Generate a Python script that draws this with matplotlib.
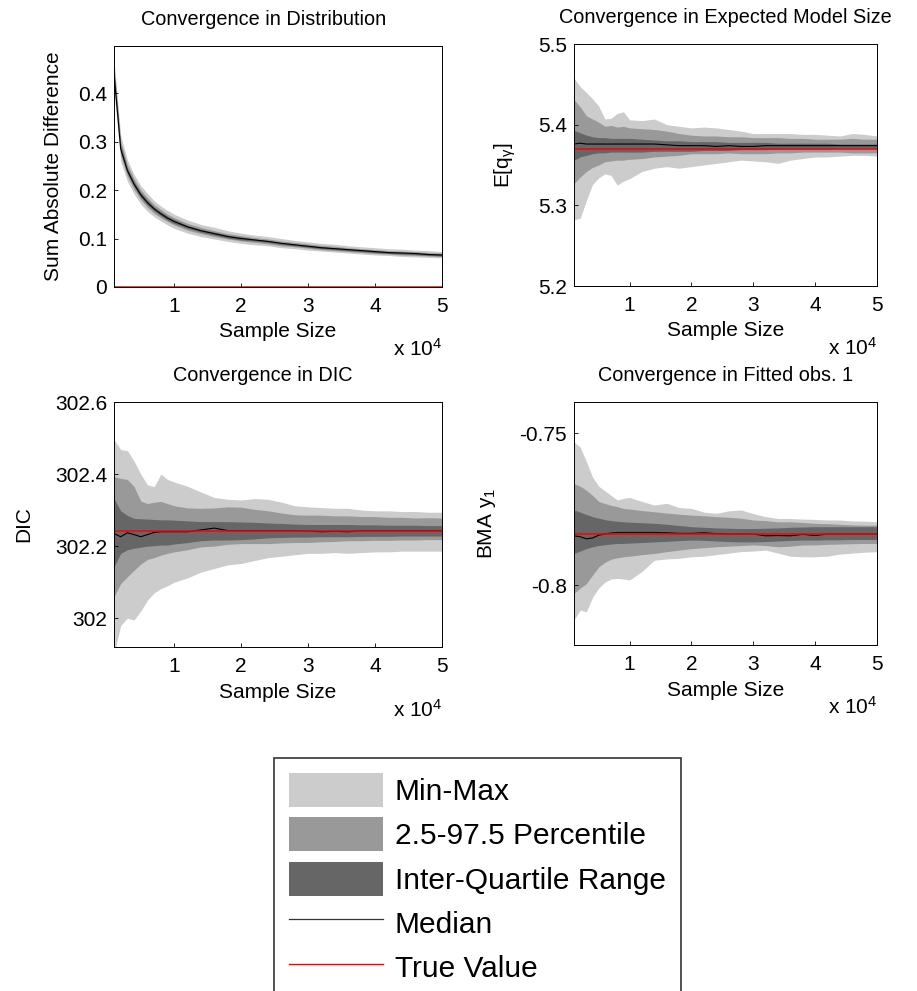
# Convergence diagnostics: 4 panels + common legend
import matplotlib
matplotlib.use("Agg")
import matplotlib.pyplot as plt
from matplotlib.patches import Patch
from matplotlib.lines import Line2D

plt.rcParams["font.family"] = ["Liberation Sans", "DejaVu Sans"]
plt.rcParams["mathtext.fontset"] = "custom"
plt.rcParams["mathtext.rm"] = "Liberation Sans"
plt.rcParams["mathtext.it"] = "Liberation Sans"
plt.rcParams["axes.unicode_minus"] = False

LIGHT = "#cccccc"
MID = "#999999"
DARK = "#666666"

# sample sizes
sample_size = [1000, 2000, 3000, 4000, 5000, 6000, 7000, 8000, 9000, 10000,
               12000, 14000, 16000, 18000, 20000, 22000, 24000, 26000, 28000, 30000,
               32000, 34000, 36000, 38000, 40000, 42000, 44000, 46000, 48000, 50000]

# --- convergence in distribution ---
dist_min = [0.405, 0.258, 0.218, 0.192, 0.171, 0.156, 0.145, 0.136, 0.128, 0.121,
            0.111, 0.104, 0.099, 0.094, 0.090, 0.087, 0.085, 0.081, 0.079, 0.076,
            0.074, 0.072, 0.070, 0.068, 0.066, 0.065, 0.063, 0.062, 0.061, 0.060]
dist_max = [0.470, 0.312, 0.262, 0.232, 0.209, 0.193, 0.178, 0.167, 0.158, 0.150,
            0.138, 0.129, 0.123, 0.116, 0.111, 0.107, 0.104, 0.100, 0.096, 0.093,
            0.090, 0.088, 0.085, 0.083, 0.081, 0.079, 0.078, 0.076, 0.075, 0.073]
dist_p025 = [0.420, 0.270, 0.228, 0.201, 0.180, 0.164, 0.152, 0.143, 0.135, 0.128,
             0.117, 0.110, 0.104, 0.099, 0.095, 0.092, 0.089, 0.085, 0.083, 0.080,
             0.077, 0.075, 0.073, 0.071, 0.069, 0.068, 0.066, 0.065, 0.064, 0.063]
dist_p975 = [0.458, 0.300, 0.252, 0.223, 0.200, 0.184, 0.170, 0.160, 0.150, 0.143,
             0.131, 0.123, 0.116, 0.110, 0.106, 0.102, 0.099, 0.095, 0.092, 0.089,
             0.086, 0.084, 0.081, 0.079, 0.077, 0.075, 0.074, 0.073, 0.071, 0.070]
dist_q25 = [0.432, 0.278, 0.235, 0.207, 0.185, 0.169, 0.157, 0.147, 0.138, 0.131,
            0.121, 0.113, 0.107, 0.101, 0.097, 0.095, 0.092, 0.088, 0.085, 0.082,
            0.079, 0.077, 0.075, 0.073, 0.071, 0.069, 0.068, 0.067, 0.065, 0.064]
dist_q75 = [0.448, 0.292, 0.245, 0.217, 0.195, 0.179, 0.165, 0.155, 0.146, 0.139,
            0.127, 0.119, 0.113, 0.107, 0.103, 0.099, 0.096, 0.092, 0.089, 0.086,
            0.083, 0.081, 0.079, 0.077, 0.075, 0.073, 0.072, 0.071, 0.069, 0.068]
dist_med = [0.440, 0.285, 0.240, 0.212, 0.190, 0.174, 0.161, 0.151, 0.142, 0.135,
            0.124, 0.116, 0.110, 0.104, 0.100, 0.097, 0.094, 0.090, 0.087, 0.084,
            0.081, 0.079, 0.077, 0.075, 0.073, 0.071, 0.070, 0.069, 0.067, 0.066]
dist_true = 0.0

# --- convergence in expected model size ---
eq_min = [5.282, 5.284, 5.306, 5.326, 5.334, 5.339, 5.337, 5.325, 5.330, 5.333,
          5.342, 5.346, 5.348, 5.346, 5.348, 5.350, 5.352, 5.354, 5.356, 5.355,
          5.354, 5.352, 5.356, 5.358, 5.360, 5.360, 5.361, 5.362, 5.362, 5.361]
eq_max = [5.458, 5.447, 5.440, 5.432, 5.423, 5.407, 5.408, 5.414, 5.416, 5.406,
          5.405, 5.407, 5.400, 5.398, 5.396, 5.397, 5.396, 5.394, 5.392, 5.389,
          5.389, 5.389, 5.389, 5.388, 5.388, 5.387, 5.386, 5.389, 5.388, 5.386]
eq_p025 = [5.327, 5.335, 5.342, 5.347, 5.350, 5.354, 5.355, 5.356, 5.356, 5.357,
           5.358, 5.360, 5.361, 5.362, 5.364, 5.364, 5.364, 5.365, 5.364, 5.364,
           5.364, 5.365, 5.365, 5.366, 5.366, 5.366, 5.366, 5.365, 5.365, 5.365]
eq_p975 = [5.431, 5.422, 5.411, 5.407, 5.403, 5.398, 5.399, 5.397, 5.398, 5.396,
           5.395, 5.394, 5.392, 5.389, 5.387, 5.386, 5.386, 5.385, 5.385, 5.384,
           5.384, 5.384, 5.383, 5.383, 5.382, 5.382, 5.382, 5.383, 5.382, 5.382]
eq_q25 = [5.356, 5.360, 5.362, 5.364, 5.365, 5.365, 5.366, 5.366, 5.366, 5.366,
          5.366, 5.367, 5.367, 5.367, 5.367, 5.368, 5.368, 5.368, 5.369, 5.369,
          5.369, 5.370, 5.370, 5.370, 5.370, 5.370, 5.371, 5.371, 5.371, 5.371]
eq_q75 = [5.393, 5.390, 5.387, 5.385, 5.384, 5.384, 5.383, 5.383, 5.383, 5.383,
          5.382, 5.381, 5.380, 5.380, 5.379, 5.379, 5.379, 5.378, 5.378, 5.378,
          5.378, 5.377, 5.377, 5.377, 5.377, 5.377, 5.376, 5.376, 5.376, 5.376]
eq_med = [5.376, 5.377, 5.376, 5.376, 5.376, 5.376, 5.376, 5.376, 5.376, 5.376,
          5.376, 5.376, 5.375, 5.374, 5.374, 5.374, 5.373, 5.374, 5.373, 5.373,
          5.374, 5.374, 5.374, 5.374, 5.374, 5.374, 5.374, 5.374, 5.374, 5.374]
eq_true = 5.3695

# --- convergence in DIC ---
dic_min = [301.900, 301.980, 302.000, 301.995, 302.020, 302.050, 302.070, 302.082, 302.090, 302.100,
           302.112, 302.128, 302.138, 302.148, 302.152, 302.160, 302.168, 302.172, 302.176, 302.180,
           302.180, 302.182, 302.180, 302.182, 302.184, 302.184, 302.186, 302.186, 302.186, 302.186]
dic_max = [302.496, 302.468, 302.465, 302.436, 302.400, 302.370, 302.365, 302.400, 302.385, 302.378,
           302.366, 302.350, 302.335, 302.330, 302.328, 302.332, 302.330, 302.322, 302.312, 302.309,
           302.307, 302.305, 302.305, 302.300, 302.298, 302.298, 302.296, 302.296, 302.294, 302.294]
dic_p025 = [302.060, 302.096, 302.115, 302.133, 302.150, 302.163, 302.168, 302.175, 302.180, 302.184,
            302.190, 302.198, 302.200, 302.205, 302.207, 302.207, 302.207, 302.209, 302.210, 302.210,
            302.212, 302.213, 302.215, 302.215, 302.216, 302.216, 302.217, 302.217, 302.218, 302.218]
dic_p975 = [302.393, 302.388, 302.385, 302.365, 302.325, 302.318, 302.322, 302.324, 302.318, 302.312,
            302.306, 302.305, 302.306, 302.309, 302.308, 302.302, 302.298, 302.292, 302.287, 302.286,
            302.286, 302.284, 302.284, 302.282, 302.282, 302.280, 302.280, 302.278, 302.279, 302.278]
dic_q25 = [302.143, 302.180, 302.190, 302.194, 302.197, 302.200, 302.201, 302.203, 302.203, 302.206,
           302.210, 302.215, 302.217, 302.217, 302.218, 302.220, 302.223, 302.224, 302.225, 302.225,
           302.226, 302.226, 302.226, 302.227, 302.227, 302.227, 302.228, 302.228, 302.228, 302.228]
dic_q75 = [302.332, 302.298, 302.285, 302.277, 302.276, 302.275, 302.274, 302.273, 302.273, 302.272,
           302.270, 302.268, 302.268, 302.268, 302.267, 302.266, 302.264, 302.263, 302.261, 302.260,
           302.260, 302.260, 302.260, 302.259, 302.259, 302.258, 302.258, 302.258, 302.257, 302.257]
dic_med = [302.235, 302.226, 302.237, 302.232, 302.226, 302.232, 302.238, 302.240, 302.240, 302.240,
           302.240, 302.245, 302.250, 302.243, 302.243, 302.243, 302.243, 302.243, 302.243, 302.242,
           302.240, 302.241, 302.240, 302.243, 302.243, 302.243, 302.243, 302.243, 302.243, 302.243]
dic_true = 302.241

# --- convergence in fitted obs. 1 ---
bma_min = [-0.8115, -0.8082, -0.8088, -0.8040, -0.8010, -0.7990, -0.7980, -0.7978, -0.7980, -0.7983,
           -0.7955, -0.7918, -0.7914, -0.7912, -0.7907, -0.7905, -0.7900, -0.7895, -0.7890, -0.7888,
           -0.7885, -0.7895, -0.7905, -0.7907, -0.7907, -0.7905, -0.7898, -0.7895, -0.7892, -0.7890]
bma_max = [-0.7529, -0.7546, -0.7594, -0.7645, -0.7675, -0.7690, -0.7705, -0.7720, -0.7715, -0.7712,
           -0.7725, -0.7737, -0.7731, -0.7745, -0.7748, -0.7760, -0.7764, -0.7756, -0.7753, -0.7765,
           -0.7775, -0.7781, -0.7781, -0.7783, -0.7784, -0.7786, -0.7786, -0.7789, -0.7790, -0.7792]
bma_p025 = [-0.8027, -0.8010, -0.7995, -0.7967, -0.7940, -0.7925, -0.7915, -0.7910, -0.7907, -0.7905,
            -0.7900, -0.7896, -0.7890, -0.7885, -0.7880, -0.7877, -0.7874, -0.7872, -0.7870, -0.7868,
            -0.7870, -0.7874, -0.7872, -0.7868, -0.7868, -0.7866, -0.7865, -0.7864, -0.7863, -0.7863]
bma_p975 = [-0.7666, -0.7675, -0.7688, -0.7705, -0.7725, -0.7732, -0.7738, -0.7742, -0.7748, -0.7750,
            -0.7755, -0.7759, -0.7763, -0.7767, -0.7770, -0.7772, -0.7775, -0.7777, -0.7780, -0.7786,
            -0.7788, -0.7792, -0.7792, -0.7794, -0.7797, -0.7798, -0.7800, -0.7802, -0.7803, -0.7803]
bma_q25 = [-0.7896, -0.7888, -0.7880, -0.7874, -0.7870, -0.7867, -0.7865, -0.7863, -0.7863, -0.7862,
           -0.7860, -0.7858, -0.7856, -0.7854, -0.7852, -0.7853, -0.7855, -0.7857, -0.7858, -0.7858,
           -0.7857, -0.7855, -0.7853, -0.7852, -0.7852, -0.7851, -0.7851, -0.7850, -0.7850, -0.7850]
bma_q75 = [-0.7753, -0.7760, -0.7768, -0.7775, -0.7780, -0.7785, -0.7788, -0.7790, -0.7792, -0.7793,
           -0.7795, -0.7797, -0.7800, -0.7804, -0.7808, -0.7810, -0.7812, -0.7813, -0.7814, -0.7814,
           -0.7813, -0.7812, -0.7810, -0.7809, -0.7808, -0.7808, -0.7808, -0.7808, -0.7808, -0.7808]
bma_med = [-0.7838, -0.7841, -0.7848, -0.7845, -0.7836, -0.7832, -0.7829, -0.7827, -0.7827, -0.7827,
           -0.7827, -0.7827, -0.7828, -0.7830, -0.7830, -0.7828, -0.7831, -0.7832, -0.7832, -0.7832,
           -0.7838, -0.7837, -0.7838, -0.7833, -0.7837, -0.7832, -0.7832, -0.7832, -0.7832, -0.7832]
bma_true = -0.7832

x_ticks = [10000, 20000, 30000, 40000, 50000]
x_ticklabels = ["1", "2", "3", "4", "5"]

FS = 15


def draw_panel(ax, bands, med, true, title, ylabel, ylim, yticks, yticklabels):
    # полосы: min-max, перцентили, квартили
    lo, hi = bands[0]
    ax.fill_between(sample_size, lo, hi, color=LIGHT, linewidth=0)
    lo, hi = bands[1]
    ax.fill_between(sample_size, lo, hi, color=MID, linewidth=0)
    lo, hi = bands[2]
    ax.fill_between(sample_size, lo, hi, color=DARK, linewidth=0)
    ax.plot(sample_size, med, color="black", linewidth=0.8)
    ax.axhline(true, color="red", linewidth=1.1)

    ax.set_xlim(1000, 50000)
    ax.set_ylim(*ylim)
    ax.set_xticks(x_ticks)
    ax.set_xticklabels(x_ticklabels)
    ax.set_yticks(yticks)
    ax.set_yticklabels(yticklabels)
    ax.tick_params(direction="in", length=3, width=0.6, labelsize=FS)
    ax.tick_params(axis="x", pad=7)
    ax.tick_params(axis="y", pad=5)
    for sp in ax.spines.values():
        sp.set_linewidth(0.7)
        sp.set_zorder(5)

    ax.set_title(title, fontsize=14.3, pad=15)
    ax.set_xlabel("Sample Size", fontsize=FS)
    ax.set_ylabel(ylabel, fontsize=FS)
    ax.text(1.0, -0.255, r"x 10$^{4}$", transform=ax.transAxes,
            ha="right", va="center", fontsize=FS)


def main():
    fig = plt.figure(figsize=(9.17, 9.91), dpi=100)
    W, H = 917.0, 991.0

    ax1 = fig.add_axes([114 / W, 1 - 287 / H, 328 / W, 241 / H])
    ax2 = fig.add_axes([574 / W, 1 - 286 / H, 303 / W, 242 / H])
    ax3 = fig.add_axes([114 / W, 1 - 647 / H, 328 / W, 245 / H])
    ax4 = fig.add_axes([574 / W, 1 - 645 / H, 303 / W, 243 / H])

    draw_panel(ax1, [(dist_min, dist_max), (dist_p025, dist_p975), (dist_q25, dist_q75)],
               dist_med, dist_true, "Convergence in Distribution", "Sum Absolute Difference",
               (0, 0.497), [0, 0.1, 0.2, 0.3, 0.4], ["0", "0.1", "0.2", "0.3", "0.4"])
    draw_panel(ax2, [(eq_min, eq_max), (eq_p025, eq_p975), (eq_q25, eq_q75)],
               eq_med, eq_true, "Convergence in Expected Model Size", r"E[q$_{\gamma}$]",
               (5.2, 5.5), [5.2, 5.3, 5.4, 5.5], ["5.2", "5.3", "5.4", "5.5"])
    draw_panel(ax3, [(dic_min, dic_max), (dic_p025, dic_p975), (dic_q25, dic_q75)],
               dic_med, dic_true, "Convergence in DIC", "DIC",
               (301.92, 302.6), [302.0, 302.2, 302.4, 302.6], ["302", "302.2", "302.4", "302.6"])
    draw_panel(ax4, [(bma_min, bma_max), (bma_p025, bma_p975), (bma_q25, bma_q75)],
               bma_med, bma_true, "Convergence in Fitted obs. 1", r"BMA y$_1$",
               (-0.8197, -0.7398), [-0.8, -0.75], ["-0.8", "-0.75"])

    # в оригинале заголовки левых графиков немного сдвинуты влево
    ax1.title.set_x(0.455)
    ax3.title.set_x(0.455)

    # подписи осей на нужных местах
    ax1.yaxis.set_label_coords(-0.155, 0.5)
    ax2.yaxis.set_label_coords(-0.185, 0.5)
    ax3.yaxis.set_label_coords(-0.247, 0.5)
    ax4.yaxis.set_label_coords(-0.25, 0.5)
    for ax in (ax1, ax2):
        ax.xaxis.set_label_coords(0.5, -0.145)
    for ax in (ax3, ax4):
        ax.xaxis.set_label_coords(0.5, -0.148)

    handles = [
        Patch(facecolor=LIGHT, edgecolor="none"),
        Patch(facecolor=MID, edgecolor="none"),
        Patch(facecolor=DARK, edgecolor="none"),
        Line2D([], [], color="#333333", linewidth=0.9),
        Line2D([], [], color="red", linewidth=1.0),
    ]
    labels = ["Min-Max", "2.5-97.5 Percentile", "Inter-Quartile Range", "Median", "True Value"]
    leg = fig.legend(handles, labels, loc="upper left",
                     bbox_to_anchor=(274 / W, 1 - 758 / H), fontsize=21.5,
                     frameon=True, fancybox=False, shadow=False,
                     handlelength=3.15, handleheight=1.37, labelspacing=0.35,
                     handletextpad=0.4, borderpad=0.5, borderaxespad=0)
    leg.get_frame().set_edgecolor("black")
    leg.get_frame().set_linewidth(1.2)

    fig.savefig("out.png", dpi=100)
    plt.close(fig)


if __name__ == "__main__":
    main()
